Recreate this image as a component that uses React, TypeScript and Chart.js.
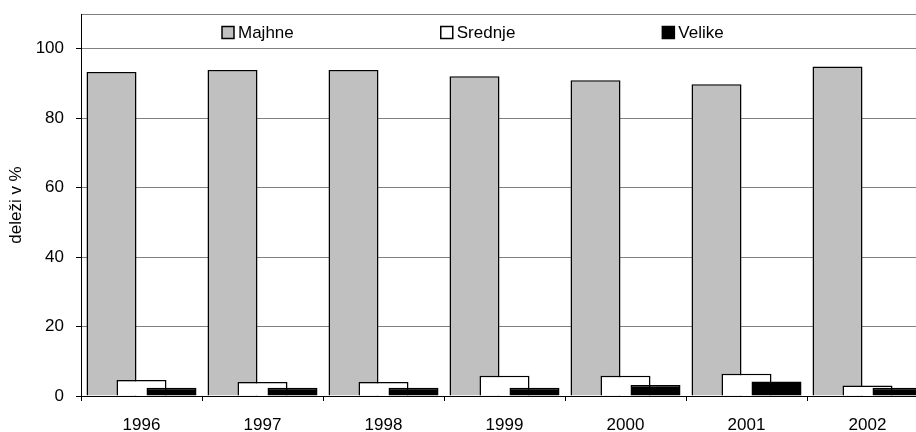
import React, { useEffect, useRef } from "react";
import { Chart, registerables } from "chart.js";

Chart.register(...registerables);

const years = ["1996", "1997", "1998", "1999", "2000", "2001", "2002"];
const majhne = [93.3, 93.9, 93.9, 92.1, 90.9, 89.8, 94.9];
const srednje = [4.6, 4.0, 4.0, 5.8, 5.8, 6.4, 3.0];
const velike = [2.4, 2.4, 2.4, 2.4, 3.2, 4.2, 2.4];
const seriesNames = ["Majhne", "Srednje", "Velike"];
const seriesColors = ["#C0C0C0", "#FFFFFF", "#000000"];
const yTitle = "deleži v %";
const yMax = 110;
const yStep = 20;

const FONT = "'Liberation Sans', Arial, sans-serif";

const forwardDraw = {
  id: "forwardDraw",
  beforeDatasetsDraw(chart: any) {
    for (let i = 0; i < chart.data.datasets.length; i++) {
      const meta = chart.getDatasetMeta(i);
      if (!meta.hidden) meta.controller.draw();
    }
    return false;
  },
};

const insideLegend = {
  id: "insideLegend",
  afterDraw(chart: any) {
    const ctx = chart.ctx;
    const area = chart.chartArea;
    ctx.save();
    ctx.font = `17px ${FONT}`;
    ctx.textAlign = "left";
    ctx.textBaseline = "alphabetic";
    const box = 12;
    let x = area.left + 141;
    const boxTop = area.top + 12.5;
    const baseline = area.top + 23.5;
    chart.data.datasets.forEach((ds: any) => {
      ctx.fillStyle = ds.backgroundColor;
      ctx.fillRect(x, boxTop, box, box);
      ctx.strokeStyle = "#000";
      ctx.lineWidth = 1.5;
      ctx.strokeRect(x, boxTop, box, box);
      ctx.fillStyle = "#000";
      ctx.fillText(ds.label, x + box + 4, baseline);
      x += box + 4 + ctx.measureText(ds.label).width + 147;
    });
    ctx.restore();
  },
};

export default function App() {
  const ref = useRef<HTMLCanvasElement | null>(null);

  useEffect(() => {
    if (!ref.current) return;
    const series = [majhne, srednje, velike];
    const chart = new Chart(ref.current, {
      type: "bar",
      data: {
        labels: years,
        datasets: series.map((d, i) => ({
          label: seriesNames[i],
          data: d,
          backgroundColor: seriesColors[i],
          borderColor: "#000",
          borderWidth: 1.5,
          categoryPercentage: 90 / 121,
          barPercentage: 50 / 30,
        })),
      },
      options: {
        responsive: false,
        animation: false,
        layout: { padding: { top: 14, left: 0, right: 0, bottom: 0 } },
        plugins: {
          legend: { display: false },
          tooltip: { enabled: false },
        },
        scales: {
          x: {
            grid: {
              offset: true,
              drawOnChartArea: false,
              drawTicks: true,
              tickLength: 5,
              color: "#000",
              tickColor: "#000",
            },
            border: { display: true, color: "#000", width: 1 },
            ticks: {
              color: "#000",
              font: { family: FONT, size: 17 },
              padding: 14,
              maxRotation: 0,
              autoSkip: false,
            },
            afterFit: (scale: any) => {
              scale.height = 36;
              scale.paddingLeft = 0;
              scale.paddingRight = 0;
            },
          },
          y: {
            min: 0,
            max: yMax,
            grid: {
              color: (c: any) => (c.tick && c.tick.value === 0 ? "#000" : "#808080"),
              tickColor: (c: any) =>
                c.tick && c.tick.value % yStep !== 0 ? "rgba(0,0,0,0)" : "#000",
              tickLength: 5,
              lineWidth: 1,
            },
            border: { display: true, color: "#000", width: 1 },
            ticks: {
              stepSize: yStep,
              color: "#000",
              font: { family: FONT, size: 17 },
              padding: 12,
              callback: (v: any) => (Number(v) % yStep === 0 ? String(v) : ""),
            },
            title: {
              display: true,
              text: yTitle,
              color: "#000",
              font: { family: FONT, size: 17 },
              padding: { top: 6, bottom: 6 },
            },
            afterFit: (scale: any) => {
              scale.width = 81;
              scale.paddingTop = 0;
              scale.paddingBottom = 0;
            },
          },
        },
      },
      plugins: [forwardDraw, insideLegend],
    });
    return () => chart.destroy();
  }, []);

  return (
    <div
      style={{
        position: "fixed",
        left: 0,
        top: 0,
        width: 916,
        height: 432,
        overflow: "hidden",
        background: "#fff",
      }}
    >
      <canvas
        ref={ref}
        width={928}
        height={432}
        style={{ display: "block", width: 928, height: 432 }}
      />
    </div>
  );
}
